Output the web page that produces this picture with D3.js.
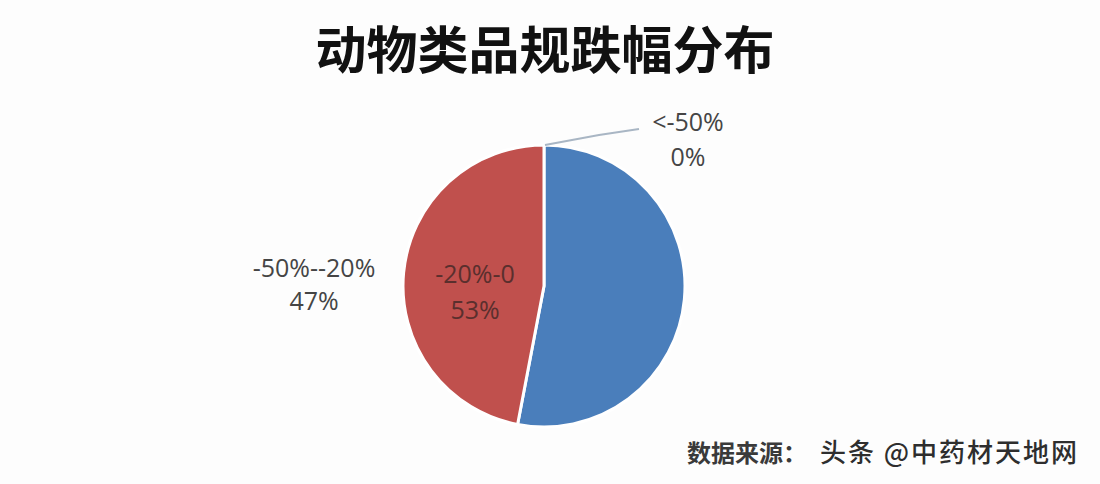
<!DOCTYPE html>
<html><head><meta charset="utf-8">
<script src="https://cdn.jsdelivr.net/npm/d3@7/dist/d3.min.js"></script>
<style>
html,body{margin:0;padding:0;background:#fff;}
svg{display:block;}
</style></head>
<body>
<svg id="c" width="1100" height="484"></svg>
<script>
const categories = ["-20%-0", "-50%--20%", "<-50%"];
const values = [53, 47, 0];
const percentLabels = ["53%", "47%", "0%"];
const colors = ["#4a7ebb", "#c0504d", "#4a7ebb"];
const title = "动物类品规跌幅分布";
const sourceText = "数据来源：";
const sourceName = "头条 @中药材天地网";

const svg = d3.select("#c");
svg.append("rect").attr("width",1100).attr("height",484).attr("fill","#fdfdfd");

const cx = 544, cy = 286, R = 141;
const g = svg.append("g").attr("transform",`translate(${cx},${cy})`);
const data = categories.map((c,i)=>({cat:c, v:values[i], lab:percentLabels[i], col:colors[i]}));
const pie = d3.pie().sort(null).value(d=>d.v);
const arcs = pie(data);
const arc = d3.arc().innerRadius(0).outerRadius(R);

g.selectAll("path.slice").data(arcs.filter(a=>a.data.v>0)).join("path")
  .attr("class","slice")
  .attr("d",arc)
  .attr("fill",d=>d.data.col)
  .attr("stroke","#ffffff").attr("stroke-width",3).attr("stroke-linejoin","round");

// labels
const font = "'Open Sans','DejaVu Sans',sans-serif";
const labelFont = 25;
const labelPos = [
  {x:-69, y:-3, dy:36, color:"#5a2f2d"},   // -20%-0 (drawn over red slice as in original)
  {x:-230, y:-9, dy:33, color:"#454545"},  // -50%--20%
  {x:144, y:-155, dy:35, color:"#454545"}  // <-50%
];
arcs.forEach((a,i)=>{
  const p = labelPos[i];
  const t = g.append("text").attr("text-anchor","middle")
    .attr("font-family",font).attr("font-size",labelFont).attr("fill",p.color);
  t.append("tspan").attr("x",p.x).attr("y",p.y).text(a.data.cat);
  t.append("tspan").attr("x",p.x).attr("y",p.y+p.dy).text(a.data.lab);
});

// leader line for zero slice
const zeroArc = arcs[2];
const ang = zeroArc.startAngle;
const p0 = [R*Math.sin(ang), -R*Math.cos(ang)];
g.append("polyline")
  .attr("points",[[p0[0]+1,p0[1]], [p0[0]+55,p0[1]-10], [p0[0]+95,p0[1]-16]].map(p=>p.join(",")).join(" "))
  .attr("fill","none").attr("stroke","#a9b6c4").attr("stroke-width",2);

// title
svg.append("text").attr("x",545).attr("y",69).attr("text-anchor","middle")
  .attr("font-family","'Noto Sans CJK SC',sans-serif").attr("font-weight",700)
  .attr("font-size",51).attr("fill","#111").text(title);

// source
svg.append("text").attr("x",687).attr("y",462)
  .attr("font-family","'Noto Sans CJK SC',sans-serif").attr("font-weight",700)
  .attr("font-size",24).attr("fill","#3a3a3a").text(sourceText);
svg.append("text").attr("x",820).attr("y",462)
  .attr("font-family","'Noto Sans CJK SC',sans-serif").attr("font-weight",500)
  .attr("font-size",26).attr("letter-spacing",2).attr("fill","#2e2e2e").attr("stroke","#ffffff").attr("stroke-width",1.2)
  .attr("paint-order","stroke").text(sourceName);
</script>
</body></html>
